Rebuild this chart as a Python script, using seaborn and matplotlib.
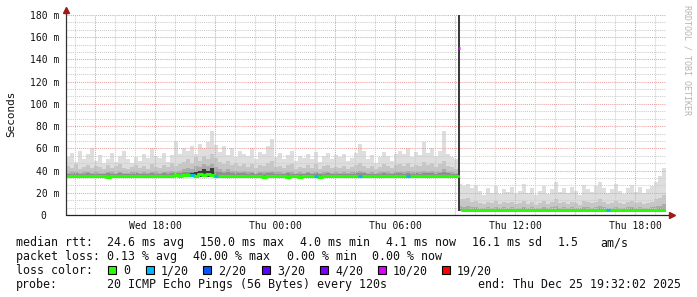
import numpy as np
import pandas as pd
import matplotlib
matplotlib.use("Agg")
import matplotlib.pyplot as plt
import seaborn as sns
from matplotlib.ticker import MultipleLocator, FuncFormatter
from matplotlib.patches import Rectangle

# ---------------- data ----------------
start_hour = 13 + 32 / 60 + 2 / 3600      # Wed 13:32:02, hours since Wed 00:00
bin_hours = 0.2                            # 12 minute columns
n_bins = 150

smoke_max = [
    52, 56, 48, 58, 50, 55, 60, 49,
    54, 47, 50, 56, 48, 53, 58,
    50, 47, 52, 49, 55, 51, 60, 53,
    51, 56, 48, 54, 67, 55, 60,
    58, 62, 55, 64, 60, 66, 76, 63,
    57, 62, 54, 60, 52, 58, 55,
    53, 60, 50, 57, 55, 62, 68, 52,
    56, 50, 54, 58, 49, 53, 51,
    55, 50, 57, 48, 53, 56, 50, 54,
    52, 55, 49, 51, 56, 64, 58,
    50, 54, 47, 52, 57, 53, 49, 55,
    58, 55, 60, 52, 57, 54, 66,
    56, 60, 53, 58, 76, 55, 52, 50,
    28,
    26, 28, 24, 27, 22,
    18, 24, 20, 26, 19, 23, 21,
    25, 19, 22, 28, 20, 24, 18,
    22, 26, 19, 23, 30, 21, 24,
    20, 25, 22, 18, 27, 23, 21,
    26, 30, 24, 20, 23, 28, 22,
    19, 24, 27, 21, 25, 20, 23,
    26, 30, 35, 42]

smoke_p90 = [
    44, 42, 46, 41, 43, 45, 42, 44,
    43, 41, 45, 42, 44, 46, 42,
    41, 43, 45, 42, 44, 41, 46, 43,
    42, 45, 43, 47, 44, 46, 48,
    50, 47, 52, 49, 53, 50, 55, 51,
    48, 46, 49, 45, 47, 44, 46,
    43, 46, 42, 45, 44, 47, 49, 43,
    44, 42, 45, 46, 41, 43, 42,
    45, 42, 46, 41, 44, 45, 42, 43,
    42, 44, 41, 43, 45, 47, 44,
    42, 44, 41, 43, 46, 44, 42, 45,
    46, 44, 47, 43, 45, 44, 48,
    45, 47, 43, 46, 49, 44, 43, 41,
    14,
    14, 15, 12, 13, 11,
    10, 12, 11, 13, 10, 12, 11,
    12, 10, 11, 13, 10, 12, 9,
    11, 13, 10, 12, 14, 11, 12,
    10, 12, 11, 9, 13, 12, 11,
    12, 14, 12, 10, 11, 13, 11,
    10, 12, 13, 11, 12, 10, 11,
    12, 14, 15, 18]

smoke_p75 = [
    38, 38.5, 39, 38, 38.5, 39, 38, 38.5,
    38, 38, 39, 38.5, 38, 39, 38,
    38, 38.5, 39, 38, 38.5, 38, 39, 38.5,
    38, 39, 38.5, 40, 39, 40, 41,
    42, 41, 44, 43, 46, 44, 47, 43,
    41, 40, 41, 39.5, 40, 39, 39.5,
    38.5, 39, 38, 39, 38.5, 39, 40, 38.5,
    38.5, 38, 39, 38.5, 38, 38.5, 38,
    39, 38, 39, 38, 38.5, 39, 38, 38.5,
    38, 38.5, 38, 38.5, 39, 40, 39,
    38, 38.5, 38, 38.5, 39, 38.5, 38, 39,
    39, 38.5, 39.5, 38.5, 39, 38.5, 40,
    39, 40, 38.5, 39, 41, 39, 38.5, 38,
    8,
    7.5, 8, 7, 7.5, 6.5,
    6.5, 7, 6.5, 7, 6, 7, 6.5,
    7, 6, 6.5, 7.5, 6, 7, 6,
    6.5, 7.5, 6, 7, 8, 6.5, 7,
    6, 7, 6.5, 6, 7.5, 7, 6.5,
    7, 8, 7, 6, 6.5, 7.5, 6.5,
    6, 7, 7.5, 6.5, 7, 6, 6.5,
    7, 8, 8.5, 10]

smoke_p60 = [
    37, 37, 37.5, 37, 37, 37.5, 37, 37,
    37, 37, 37.5, 37, 37, 37.5, 37,
    37, 37, 37.5, 37, 37, 37, 37.5, 37,
    37, 37.5, 37, 38, 37.5, 38, 38.5,
    39, 38.5, 40, 39.5, 41, 40, 42, 39.5,
    38.5, 38, 38.5, 37.5, 38, 37.5, 37.5,
    37, 37.5, 37, 37.5, 37, 37.5, 38, 37,
    37, 37, 37.5, 37, 37, 37, 37,
    37.5, 37, 37.5, 37, 37, 37.5, 37, 37,
    37, 37, 37, 37, 37.5, 38, 37.5,
    37, 37, 37, 37, 37.5, 37, 37, 37.5,
    37.5, 37, 38, 37, 37.5, 37, 38,
    37.5, 38, 37, 37.5, 38.5, 37.5, 37, 37,
    6,
    6, 6, 5.5, 6, 5.5,
    5.5, 5.5, 5.5, 6, 5.5, 5.5, 5.5,
    5.5, 5.5, 5.5, 6, 5.5, 5.5, 5.5,
    5.5, 6, 5.5, 5.5, 6, 5.5, 5.5,
    5.5, 5.5, 5.5, 5.5, 6, 5.5, 5.5,
    5.5, 6, 5.5, 5.5, 5.5, 6, 5.5,
    5.5, 5.5, 6, 5.5, 5.5, 5.5, 5.5,
    5.5, 6, 6, 6.5]

smoke_min = [
    33.5, 33.5, 33.5, 33.5, 33, 33.5, 33.5, 33.5,
    33.5, 33.5, 32.5, 33.5, 33.5, 33.5, 33.5,
    33.5, 33.5, 33.5, 33.5, 33.5, 33, 33.5, 33.5,
    33.5, 33.5, 33.5, 33.5, 34, 33.5, 34,
    34, 34, 33.5, 34.5, 34, 34.5, 34, 33.5,
    33.5, 33.5, 33.5, 33.5, 33.5, 33, 33.5,
    33.5, 33.5, 33, 33.5, 32.5, 33.5, 33, 33.5,
    33, 33.5, 32.5, 33.5, 33, 32.5, 33.5,
    33, 33.5, 33.5, 32.5, 33.5, 33.5, 33, 33.5,
    33.5, 33.5, 33.5, 33.5, 33.5, 33.5, 33.5,
    33.5, 33, 33.5, 33.5, 33.5, 33, 33.5, 33.5,
    33.5, 33.5, 33.5, 33.5, 33.5, 33, 33.5,
    33.5, 33.5, 33.5, 33.5, 33.5, 33.5, 33.5, 33.5,
    4,
    3, 3, 3, 3, 3,
    3, 3, 3, 3, 3, 3, 3,
    3, 3, 3, 3, 3, 3, 3,
    3, 3, 3, 3, 3, 3, 3,
    3, 3, 3, 3, 3, 3, 3,
    3, 3, 3, 3, 3, 3, 3,
    3, 3, 3, 3, 3, 3, 3,
    3, 3, 3, 3]

median_ms = [
    35.2, 35.2, 35.2, 35.2, 34.8, 35.2, 35.2, 35.2,
    35.2, 35.2, 34.2, 35.2, 35.2, 35.2, 35.2,
    35.2, 35.2, 35.2, 35.2, 35.2, 34.8, 35.2, 35.2,
    35.2, 35.2, 35.2, 35.2, 35.8, 35.2, 35.8,
    35.8, 36.3, 35.2, 36.8, 35.8, 37.3, 36.3, 35.2,
    35.2, 35.2, 35.2, 35.2, 35.2, 34.8, 35.2,
    35.2, 35.2, 34.8, 35.2, 34.2, 35.2, 34.8, 35.2,
    34.8, 35.2, 34.2, 35.2, 34.8, 34.2, 35.2,
    34.8, 35.2, 35.2, 34.2, 35.2, 35.2, 34.8, 35.2,
    35.2, 35.2, 35.2, 35.2, 35.2, 35.2, 35.2,
    35.2, 34.8, 35.2, 35.2, 35.2, 34.8, 35.2, 35.2,
    35.2, 35.2, 35.2, 35.2, 35.2, 34.8, 35.2,
    35.2, 35.2, 35.2, 35.2, 35.2, 35.2, 35.2, 35.2,
    150,
    4.4, 4.4, 4.2, 4.2, 4.2,
    4.2, 4.2, 4.2, 4.2, 4.2, 4.2, 4.2,
    4.2, 4.2, 4.2, 4.2, 4.2, 4.2, 4.2,
    4.2, 4.2, 4.2, 4.2, 4.2, 4.2, 4.2,
    4.2, 4.2, 4.2, 4.2, 4.2, 4.2, 4.2,
    4.2, 4.2, 4.2, 4.2, 4.2, 4.2, 4.2,
    4.2, 4.2, 4.2, 4.2, 4.2, 4.2, 4.2,
    4.2, 4.2, 4.2, 4.2]

# darkest (densest) smoke core, only where it rises visibly above the median
core_bins = [31, 32, 33, 34, 35, 36, 98]
core_top = [38, 39, 39.5, 41, 40, 42, 185]

spike_bin = 98
loss_bins = [31, 37, 62, 73, 85, 98, 135]
loss_counts = [1, 1, 1, 1, 1, 10, 1]

x_tick_hours = [18, 24, 30, 36, 42]
x_tick_labels = ["Wed 18:00", "Thu 00:00", "Thu 06:00", "Thu 12:00", "Thu 18:00"]
y_tick_values = [0, 20, 40, 60, 80, 100, 120, 140, 160, 180]
y_tick_labels = ["0  ", "20 m", "40 m", "60 m", "80 m", "100 m", "120 m",
                 "140 m", "160 m", "180 m"]

loss_levels = [0, 1, 2, 3, 4, 10, 19]
loss_labels = ["0", "1/20", "2/20", "3/20", "4/20", "10/20", "19/20"]
loss_colors = ["#26ff00", "#00b8ff", "#0059ff", "#5e00ff", "#7e00ff", "#dd00ff", "#ff0000"]

stats_rtt = ["24.6 ms avg", "150.0 ms max", "4.0 ms min", "4.1 ms now", "16.1 ms sd", "1.5", "am/s"]
stats_loss = ["0.13 % avg", "40.00 % max", "0.00 % min", "0.00 % now"]
probe_text = "20 ICMP Echo Pings (56 Bytes) every 120s"
end_text = "end: Thu Dec 25 19:32:02 2025"

for arr in (smoke_max, smoke_p90, smoke_p75, smoke_p60, smoke_min, median_ms):
    assert len(arr) == n_bins, len(arr)

# ---------------- style ----------------
sns.set_theme(style="white")
plt.rcParams["font.family"] = ["DejaVu Sans Mono", "DejaVu Sans"]
plt.rcParams["axes.linewidth"] = 0.8

W, H = 697, 297
fig = plt.figure(figsize=(W / 100, H / 100), dpi=100, facecolor="white")
ax = fig.add_axes([66 / W, (H - 215) / H, 600 / W, 200 / H])
ax.set_facecolor("white")

edges = start_hour + bin_hours * np.arange(n_bins + 1)


def ext(a):
    a = np.asarray(a, dtype=float)
    return np.append(a, a[-1])


lo = ext(smoke_min)
for top, col in [(smoke_max, "#dedede"), (smoke_p90, "#c6c6c6"),
                 (smoke_p75, "#ababab"), (smoke_p60, "#8e8e8e")]:
    ax.fill_between(edges, lo, ext(top), step="post", color=col, linewidth=0, zorder=1)

smin = np.asarray(smoke_min, dtype=float)
core_w = [bin_hours * (0.6 if b == spike_bin else 1.0) for b in core_bins]
ax.bar(edges[core_bins], np.asarray(core_top) - smin[core_bins], bottom=smin[core_bins],
       width=core_w, align="edge", color="#3a3a3a", linewidth=0, zorder=3)

# median line (loss 0 in green), split around the spike column
med = np.asarray(median_ms, dtype=float)
pre = pd.DataFrame({"hour": edges[:spike_bin + 1],
                    "ms": np.append(med[:spike_bin], med[spike_bin - 1])})
post = pd.DataFrame({"hour": edges[spike_bin + 1:],
                     "ms": np.append(med[spike_bin + 1:], med[-1])})
for df in (pre, post):
    sns.lineplot(data=df, x="hour", y="ms", ax=ax, color=loss_colors[0],
                 linewidth=2.2, drawstyle="steps-post", zorder=4)


def loss_color(cnt):
    c = loss_colors[0]
    for lvl, colr in zip(loss_levels, loss_colors):
        if cnt >= lvl:
            c = colr
    return c


for b, cnt in zip(loss_bins, loss_counts):
    w = bin_hours * (0.6 if b == spike_bin else 1.0)
    ax.hlines(med[b], edges[b], edges[b] + w,
              color=loss_color(cnt), linewidth=2.2, zorder=5)

ax.set_xlim(start_hour, start_hour + n_bins * bin_hours)
ax.set_ylim(0, 180)
ax.set_xlabel("")
ax.set_ylabel("")

xlab = dict(zip(x_tick_hours, x_tick_labels))
ylab = dict(zip(y_tick_values, y_tick_labels))
ax.xaxis.set_major_locator(MultipleLocator(3))
ax.xaxis.set_minor_locator(MultipleLocator(1))
ax.xaxis.set_major_formatter(FuncFormatter(lambda v, p: xlab.get(int(round(v)), "")))
ax.yaxis.set_major_locator(MultipleLocator(20))
ax.yaxis.set_minor_locator(MultipleLocator(20 / 3))
ax.yaxis.set_major_formatter(FuncFormatter(lambda v, p: ylab.get(int(round(v)), "")))

ax.set_axisbelow(False)
ax.grid(which="major", color="#e8a2a2", linestyle=(0, (1, 1)), linewidth=0.75)
ax.grid(which="minor", color="#cdcdcd", linestyle=(0, (1, 1)), linewidth=0.75)

ax.tick_params(axis="x", which="major", length=2.5, width=0.7, color="#333333",
               labelsize=7, pad=1.5, labelcolor="#111111", direction="out")
ax.tick_params(axis="x", which="minor", length=1.5, width=0.7, color="#333333", direction="out")
ax.tick_params(axis="y", which="major", length=2, width=0.7, color="#333333",
               labelsize=7, pad=3, labelcolor="#111111", direction="out")
ax.tick_params(axis="y", which="minor", length=0)

for s in ax.spines.values():
    s.set_visible(False)
ax.plot([0, 0], [0, 1 + 4 / 200], transform=ax.transAxes, color="#333333",
        lw=0.9, clip_on=False, zorder=6)
ax.plot([0, 1 + 4 / 600], [0, 0], transform=ax.transAxes, color="#222222",
        lw=0.9, clip_on=False, zorder=6)
ax.plot([0], [1 + 5 / 200], marker="^", ms=4.5, color="#a01818", mec="#a01818",
        transform=ax.transAxes, clip_on=False, zorder=7)
ax.plot([1 + 6 / 600], [0], marker=">", ms=4.5, color="#a01818", mec="#a01818",
        transform=ax.transAxes, clip_on=False, zorder=7)

# ---------------- texts ----------------
def fx(x):
    return x / W


def fy(y):
    return 1 - y / H


fig.text(fx(11), fy(114), "Seconds", rotation=90, ha="center", va="center",
         fontsize=7.9, color="#111111")
fig.text(fx(687), fy(5), "RRDTOOL / TOBI OETIKER", rotation=270, ha="center",
         va="top", fontsize=6, color="#b4b4b4")

fs = 8.4
tc = "#111111"
fig.text(fx(16), fy(246), "median rtt:", fontsize=fs, color=tc, va="baseline")
for xpos, s in zip([107, 200, 300, 386, 472, 558, 600], stats_rtt):
    fig.text(fx(xpos), fy(246), s, fontsize=fs, color=tc, va="baseline")

fig.text(fx(16), fy(260), "packet loss:", fontsize=fs, color=tc, va="baseline")
for xpos, s in zip([107, 193, 287, 372], stats_loss):
    fig.text(fx(xpos), fy(260), s, fontsize=fs, color=tc, va="baseline")

fig.text(fx(16), fy(274), "loss color:", fontsize=fs, color=tc, va="baseline")
for xpos, lab, col in zip([108, 146, 203, 262, 320, 378, 442], loss_labels, loss_colors):
    fig.add_artist(Rectangle((fx(xpos), fy(274)), 8 / W, 8 / H, transform=fig.transFigure,
                             facecolor=col, edgecolor="#000000", linewidth=0.8))
    fig.text(fx(xpos + 15), fy(274), lab, fontsize=fs, color=tc, va="baseline")

fig.text(fx(16), fy(288), "probe:", fontsize=fs, color=tc, va="baseline")
fig.text(fx(107), fy(288), probe_text, fontsize=fs, color=tc, va="baseline")
fig.text(fx(478), fy(288), end_text, fontsize=fs, color=tc, va="baseline")

fig.savefig("out.png", dpi=100, facecolor="white")
